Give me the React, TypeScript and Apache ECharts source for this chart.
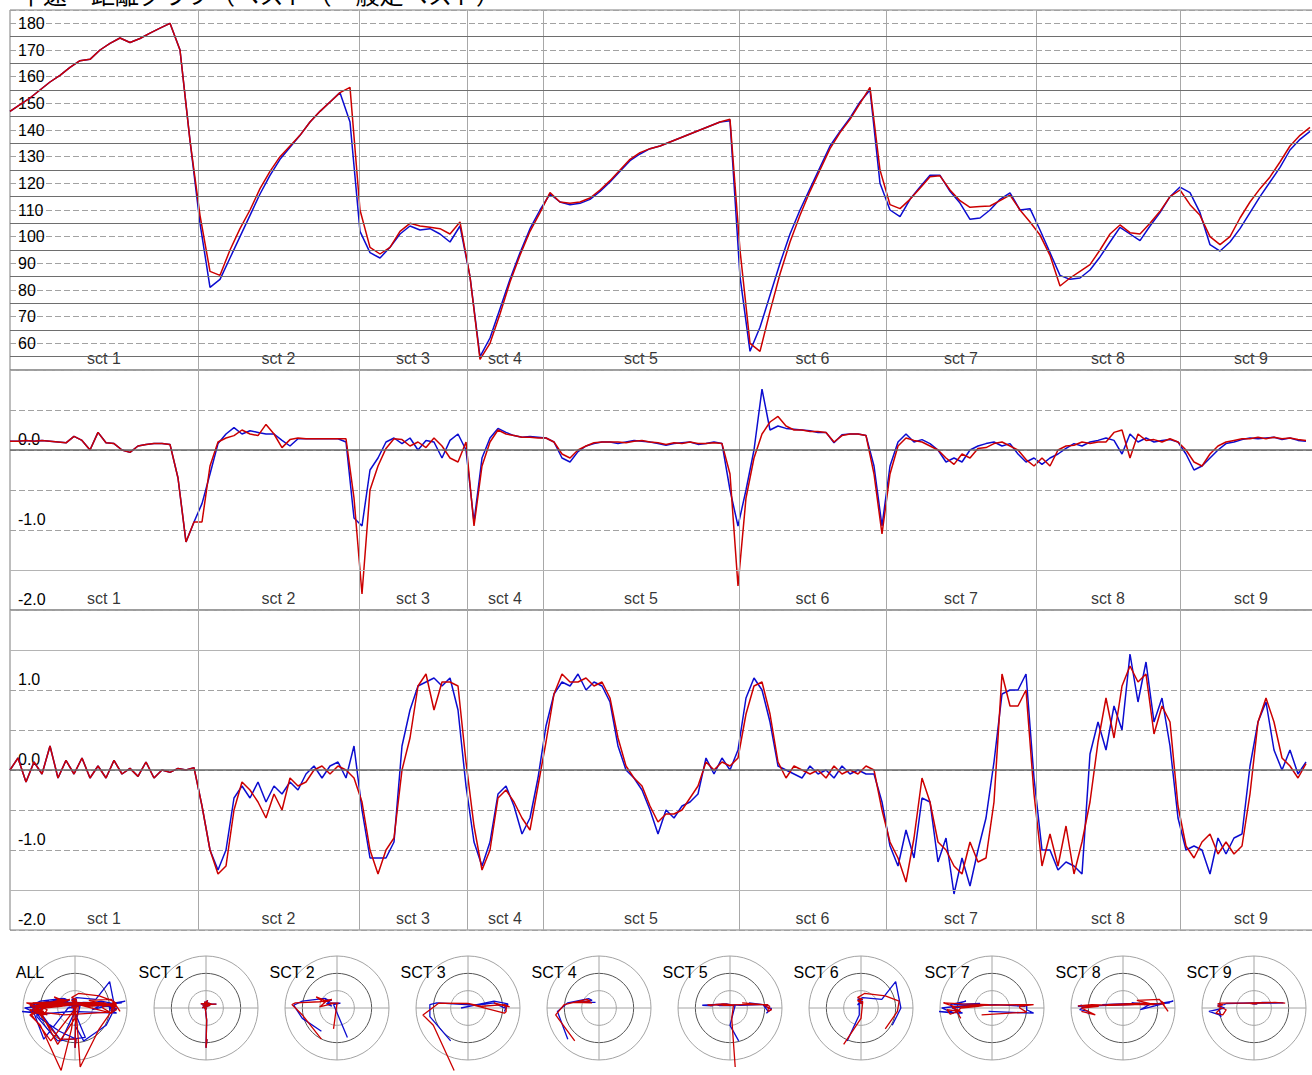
import React, { useEffect, useRef } from 'react';
import * as echarts from 'echarts';

const TITLE = '中速・距離グラフ（ベスト（一般走ベスト）';
const FONT = '"Liberation Sans", Arial, sans-serif';
const BLUE = '#0c0cd0';
const RED = '#cc0000';

const SECTOR_NAMES = ['sct 1', 'sct 2', 'sct 3', 'sct 4', 'sct 5', 'sct 6', 'sct 7', 'sct 8', 'sct 9'];
const POLAR_NAMES = ['ALL', 'SCT 1', 'SCT 2', 'SCT 3', 'SCT 4', 'SCT 5', 'SCT 6', 'SCT 7', 'SCT 8', 'SCT 9'];
const SECTOR_BOUNDS = [0, 188, 349, 457, 533, 729, 876, 1026, 1170, 1312];
const TOTAL_DIST = 1312;

// speed (km/h), sampled every 10 distance units
const SPEED_STEP = 10;
const SPEED_BLUE = [
  147, 149.5, 152, 155, 158, 160.5, 163.5, 166, 166.5, 170,
  172.5, 174.5, 172.8, 174.3, 176.3, 178.2, 180, 170, 136, 105,
  81, 84, 92, 100, 108, 116, 123, 129, 133.5, 138,
  143, 147, 150.5, 154, 143, 102, 94, 92, 96, 101,
  104, 102.5, 103, 101, 98, 104, 85, 55, 62, 73,
  84, 94, 103, 110, 116, 113, 112, 112.5, 114, 117,
  120.5, 124.5, 128.5, 131, 133, 134, 135.5, 137, 138.5, 140,
  141.5, 143, 143.5, 85, 57, 66, 78, 90, 101, 110,
  118, 126, 134, 139.5, 144.5, 150.5, 155, 120, 110, 107.5,
  114, 118.6, 123, 123, 117, 112.6, 106.5, 107, 110, 114,
  116.4, 110, 110.5, 102.5, 94, 85.5, 84, 84.5, 87.5, 92.4,
  98, 103.5, 101, 98.5, 104, 109, 115, 118.6, 116.5, 109,
  97, 94.6, 98, 103, 109, 115, 120.5, 126, 132.5, 136.5, 139.5,
];
const SPEED_RED = [
  147, 149.5, 152, 155, 158, 160.5, 163.5, 166, 166.5, 170,
  172.5, 174.5, 172.8, 174.3, 176.3, 178.2, 180, 170, 136, 108,
  87, 85.5, 95, 103, 110, 118, 124.5, 130, 134, 138,
  143, 147, 150.5, 154, 156, 110, 96, 93.5, 96, 102,
  105, 104, 103.5, 103, 101, 105.5, 85, 54, 60, 71,
  83, 93, 102, 109, 116.5, 113, 112.5, 113, 114.5, 117.5,
  121, 125, 129, 131.5, 133, 134, 135.5, 137, 138.5, 140,
  141.5, 143, 144, 95, 60, 57, 72, 86, 98, 108,
  117, 125, 133, 139, 144, 150, 156, 125, 112, 110.5,
  114, 118.2, 122.5, 122.8, 117.5, 113.5, 111, 111.3, 111.5, 113.5,
  115.6, 110, 105.5, 100.6, 93, 81.5, 84.5, 87, 89.5, 95,
  101, 104.4, 101.5, 101, 105, 109.5, 115, 117.5, 112, 108,
  100, 97, 100, 107, 113, 118, 122.4, 128, 134, 138, 141,
];

// G values, sampled every 8 distance units
const G_STEP = 8;
const LONG_G_BLUE = [
  0.11, 0.11, 0.12, 0.11, 0.12, 0.11, 0.10, 0.09, 0.17, 0.12,
  0.00, 0.22, 0.09, 0.08, 0.00, -0.03, 0.05, 0.07, 0.08, 0.08,
  0.07, -0.35, -1.15, -0.90, -0.67, -0.30, 0.08, 0.20, 0.28, 0.20,
  0.24, 0.22, 0.20, 0.20, 0.12, 0.05, 0.14, 0.14, 0.14, 0.14,
  0.14, 0.14, 0.10, -0.85, -0.95, -0.25, -0.10, 0.10, 0.15, 0.08,
  0.15, 0.00, 0.12, 0.10, -0.10, 0.12, 0.20, 0.00, -0.90, -0.10,
  0.15, 0.27, 0.22, 0.18, 0.16, 0.17, 0.16, 0.15, 0.10, -0.10,
  -0.15, -0.02, 0.05, 0.08, 0.10, 0.10, 0.08, 0.10, 0.12, 0.11,
  0.10, 0.08, 0.06, 0.08, 0.09, 0.10, 0.07, 0.08, 0.10, 0.08,
  -0.50, -0.95, -0.50, 0.00, 0.76, 0.25, 0.30, 0.27, 0.26, 0.25,
  0.24, 0.22, 0.22, 0.09, 0.19, 0.20, 0.20, 0.18, -0.20, -0.95,
  -0.20, 0.10, 0.20, 0.10, 0.13, 0.08, 0.00, -0.15, -0.10, -0.15,
  0.00, 0.05, 0.08, 0.10, 0.05, 0.08, -0.05, -0.15, -0.10, -0.18,
  -0.10, -0.05, 0.02, 0.08, 0.05, 0.10, 0.12, 0.15, 0.12, -0.05,
  0.20, 0.10, 0.15, 0.10, 0.12, 0.13, 0.10, -0.05, -0.25, -0.20,
  -0.10, 0.00, 0.08, 0.10, 0.13, 0.15, 0.14, 0.15, 0.16, 0.13,
  0.15, 0.12, 0.11,
];
const LONG_G_RED = [
  0.11, 0.11, 0.12, 0.11, 0.12, 0.11, 0.10, 0.09, 0.17, 0.12,
  0.00, 0.22, 0.09, 0.08, 0.00, -0.03, 0.05, 0.07, 0.08, 0.08,
  0.07, -0.35, -1.15, -0.90, -0.90, -0.20, 0.10, 0.15, 0.18, 0.25,
  0.20, 0.18, 0.32, 0.20, 0.03, 0.13, 0.15, 0.14, 0.14, 0.14,
  0.14, 0.14, 0.14, -0.60, -1.80, -0.50, -0.20, 0.02, 0.14, 0.13,
  0.05, 0.10, 0.03, 0.15, 0.05, -0.10, -0.15, 0.10, -0.95, -0.20,
  0.10, 0.25, 0.20, 0.18, 0.16, 0.16, 0.15, 0.15, 0.10, -0.05,
  -0.10, 0.00, 0.05, 0.09, 0.10, 0.10, 0.10, 0.09, 0.11, 0.12,
  0.10, 0.09, 0.07, 0.09, 0.08, 0.10, 0.08, 0.08, 0.09, 0.08,
  -0.30, -1.70, -0.60, -0.10, 0.20, 0.35, 0.42, 0.30, 0.25, 0.25,
  0.23, 0.23, 0.22, 0.10, 0.18, 0.20, 0.20, 0.18, -0.30, -1.05,
  -0.30, 0.05, 0.15, 0.12, 0.10, 0.05, 0.00, -0.10, -0.18, -0.05,
  -0.10, 0.02, 0.03, 0.08, 0.10, 0.05, 0.00, -0.12, -0.20, -0.10,
  -0.20, 0.00, 0.05, 0.06, 0.10, 0.08, 0.10, 0.10, 0.22, 0.25,
  -0.10, 0.20, 0.12, 0.13, 0.10, 0.14, 0.10, 0.00, -0.15, -0.20,
  -0.05, 0.05, 0.10, 0.12, 0.14, 0.14, 0.16, 0.14, 0.16, 0.14,
  0.15, 0.13, 0.12,
];
const LAT_G_BLUE = [
  0.00, 0.15, -0.15, 0.10, -0.05, 0.30, -0.10, 0.12, -0.05, 0.15,
  -0.10, 0.05, -0.10, 0.12, -0.05, 0.02, -0.08, 0.10, -0.10, 0.00,
  -0.03, 0.02, 0.00, 0.03, -0.45, -1.00, -1.25, -1.00, -0.35, -0.20,
  -0.35, -0.15, -0.40, -0.20, -0.30, -0.15, -0.25, -0.05, 0.05, -0.10,
  0.05, 0.10, -0.10, 0.30, -0.50, -1.10, -1.10, -1.10, -0.90, 0.30,
  0.75, 1.05, 1.10, 1.15, 1.05, 1.15, 0.75, -0.20, -0.90, -1.20,
  -0.90, -0.30, -0.20, -0.45, -0.80, -0.60, -0.10, 0.55, 0.95, 1.10,
  1.05, 1.20, 1.00, 1.10, 1.05, 0.85, 0.30, 0.00, -0.10, -0.25,
  -0.50, -0.80, -0.50, -0.60, -0.45, -0.40, -0.30, 0.15, -0.05, 0.15,
  0.00, 0.25, 0.90, 1.15, 1.00, 0.60, 0.05, 0.00, -0.05, -0.10,
  0.05, -0.05, 0.00, -0.10, 0.05, -0.05, 0.00, -0.05, -0.05, -0.40,
  -0.95, -1.20, -0.75, -1.10, -0.35, -0.40, -1.15, -0.85, -1.55, -1.10,
  -1.45, -1.00, -0.60, 0.10, 0.95, 1.00, 1.00, 1.20, -0.10, -1.00,
  -1.00, -1.25, -1.15, -1.20, -1.30, 0.20, 0.60, 0.25, 0.80, 0.50,
  1.45, 0.85, 1.35, 0.60, 0.90, 0.30, -0.60, -1.00, -0.95, -1.00,
  -1.30, -0.85, -1.05, -0.85, -0.80, 0.05, 0.60, 0.85, 0.25, 0.00,
  0.25, -0.05, 0.10,
];
const LAT_G_RED = [
  0.00, 0.15, -0.15, 0.10, -0.05, 0.30, -0.10, 0.12, -0.05, 0.15,
  -0.10, 0.05, -0.10, 0.12, -0.05, 0.02, -0.08, 0.10, -0.10, 0.00,
  -0.03, 0.02, 0.00, 0.03, -0.45, -1.00, -1.30, -1.20, -0.50, -0.15,
  -0.25, -0.40, -0.60, -0.30, -0.50, -0.10, -0.20, -0.15, 0.00, 0.05,
  -0.05, 0.05, 0.00, -0.10, -0.40, -1.00, -1.30, -1.00, -0.85, 0.00,
  0.40, 1.05, 1.20, 0.75, 1.10, 1.10, 1.05, 0.10, -0.70, -1.25,
  -1.00, -0.35, -0.25, -0.40, -0.60, -0.75, -0.20, 0.35, 0.95, 1.20,
  1.10, 1.10, 1.15, 1.05, 1.10, 0.90, 0.40, 0.05, -0.10, -0.20,
  -0.45, -0.65, -0.55, -0.55, -0.50, -0.35, -0.20, 0.10, 0.00, 0.10,
  0.05, 0.15, 0.70, 1.05, 1.10, 0.70, 0.10, -0.10, 0.05, 0.00,
  -0.05, 0.00, -0.10, 0.05, -0.05, 0.00, -0.05, 0.05, 0.00, -0.50,
  -0.90, -1.10, -1.40, -0.85, -0.10, -0.40, -0.90, -1.00, -1.20, -1.30,
  -0.90, -1.15, -1.10, -0.40, 1.20, 0.80, 0.80, 1.00, -0.30, -1.20,
  -0.80, -1.20, -0.70, -1.30, -0.90, -0.40, 0.35, 0.90, 0.40, 1.05,
  1.30, 1.10, 1.20, 0.45, 0.80, 0.60, -0.45, -0.95, -1.10, -0.90,
  -0.80, -1.05, -0.90, -1.05, -0.95, -0.30, 0.60, 0.90, 0.60, 0.15,
  0.05, -0.10, 0.08,
];

// grid lines / ticks
const SPEED_SOLID_LINES = [55, 65, 75, 85, 95, 105, 115, 125, 135, 145, 155, 165, 175];
const LONG_LIGHT_LINES = [-1.5];
const LAT_LIGHT_LINES = [1.5, -1.5];
const POLAR_RINGS = [0.5, 1.0, 1.5];

const PANELS = [
  { top: 22, height: 360, min: 50, max: 185, interval: 10, align: 'middle', pad: [4, 0, 0, 0], light: [] as number[], solid: SPEED_SOLID_LINES, zero: false },
  { top: 382, height: 240, min: -2, max: 1, interval: 0.5, align: 'bottom', pad: [0, 0, 3, 0], light: LONG_LIGHT_LINES, solid: [] as number[], zero: true },
  { top: 622, height: 320, min: -2, max: 2, interval: 0.5, align: 'bottom', pad: [0, 0, 3, 0], light: LAT_LIGHT_LINES, solid: [] as number[], zero: true },
];
const POLAR_CX0 = 75;
const POLAR_DX = 131;
const POLAR_CY = 1020;
const POLAR_R = 52;

function series(values: number[], step: number) {
  return values.map((v, i) => [i * step, v]);
}

function polarData(lat: number[], lon: number[], k: number) {
  const out: number[][] = [];
  for (let i = 0; i < lat.length; i++) {
    const d = i * G_STEP;
    if (k < 0 || (d >= SECTOR_BOUNDS[k] && d <= SECTOR_BOUNDS[k + 1])) out.push([lat[i], lon[i]]);
  }
  return out;
}

export default function App() {
  const ref = useRef<HTMLDivElement>(null);
  useEffect(() => {
    const chart = echarts.init(ref.current as HTMLDivElement, null, { renderer: 'svg' });
    const grids: any[] = [];
    const xAxes: any[] = [];
    const yAxes: any[] = [];
    const ser: any[] = [];
    const hidden = { axisLine: { show: false }, axisTick: { show: false }, axisLabel: { show: false }, splitLine: { show: false } };

    const panelData = [
      [SPEED_BLUE, SPEED_RED, SPEED_STEP],
      [LONG_G_BLUE, LONG_G_RED, G_STEP],
      [LAT_G_BLUE, LAT_G_RED, G_STEP],
    ] as any[];

    PANELS.forEach((p, pi) => {
      grids.push({ left: 10, top: p.top, width: TOTAL_DIST, height: p.height, show: true, borderColor: '#7c7c7c', borderWidth: 1, backgroundColor: 'transparent' });
      xAxes.push({ type: 'value', gridIndex: pi, min: 0, max: TOTAL_DIST, ...hidden });
      yAxes.push({
        type: 'value', gridIndex: pi, min: p.min, max: p.max, interval: p.interval,
        axisLine: { show: false }, axisTick: { show: false },
        axisLabel: {
          inside: true, margin: 8, color: '#000', fontSize: 16, fontFamily: FONT,
          verticalAlign: p.align, padding: p.pad, showMinLabel: pi !== 0, showMaxLabel: false,
          formatter: (v: number) => (pi === 0 ? String(v) : Number.isInteger(v) ? v.toFixed(1) : ''),
        },
        splitLine: { show: true, lineStyle: { type: [6, 3], color: '#a2a2a2', width: 1 } },
      });
      const ml: any[] = [];
      SECTOR_BOUNDS.slice(1, -1).forEach((b) => ml.push({ xAxis: b, lineStyle: { color: '#a8a8a8', type: 'solid', width: 1 } }));
      p.solid.forEach((v) => ml.push({ yAxis: v, lineStyle: { color: '#6e6e6e', type: 'solid', width: 1 } }));
      p.light.forEach((v) => ml.push({ yAxis: v, lineStyle: { color: '#b4b4b4', type: 'solid', width: 1 } }));
      if (p.zero) ml.push({ yAxis: 0, lineStyle: { color: '#666', type: 'solid', width: 1.5 } });
      ser.push({
        type: 'scatter', xAxisIndex: pi, yAxisIndex: pi, z: 1, silent: true, clip: false,
        symbolSize: 1, itemStyle: { color: 'rgba(0,0,0,0)' },
        data: SECTOR_NAMES.map((_, k) => [(SECTOR_BOUNDS[k] + SECTOR_BOUNDS[k + 1]) / 2, p.min]),
        label: { show: true, position: 'top', distance: 3, color: '#000', fontSize: 16, fontFamily: FONT, formatter: (q: any) => SECTOR_NAMES[q.dataIndex] },
        markLine: { silent: true, symbol: ['none', 'none'], label: { show: false }, data: ml, animation: false },
      });
      const [blue, red, step] = panelData[pi];
      ser.push({ type: 'line', xAxisIndex: pi, yAxisIndex: pi, z: 3, data: series(blue, step), showSymbol: false, symbol: 'none', lineStyle: { color: BLUE, width: 1.5 }, emphasis: { disabled: true } });
      ser.push({ type: 'line', xAxisIndex: pi, yAxisIndex: pi, z: 4, data: series(red, step), showSymbol: false, symbol: 'none', lineStyle: { color: RED, width: 1.5 }, emphasis: { disabled: true } });
    });

    const graphics: any[] = [
      { type: 'text', x: 19, y: 17, style: { text: TITLE, font: '24px "Noto Sans CJK JP"', fill: '#000', verticalAlign: 'bottom', align: 'left' } },
    ];

    POLAR_NAMES.forEach((name, k) => {
      const gi = 3 + k;
      const cx = POLAR_CX0 + POLAR_DX * k;
      grids.push({ left: cx - POLAR_R, top: POLAR_CY - POLAR_R, width: POLAR_R * 2, height: POLAR_R * 2, show: false });
      xAxes.push({ type: 'value', gridIndex: gi, min: -1.5, max: 1.5, ...hidden });
      yAxes.push({ type: 'value', gridIndex: gi, min: -1.5, max: 1.5, ...hidden });
      ser.push({
        type: 'custom', xAxisIndex: gi, yAxisIndex: gi, z: 1, silent: true, clip: false,
        data: POLAR_RINGS.map((r, j) => [0, 0, r, j]),
        encode: { x: 0, y: 1 },
        renderItem: (_params: any, api: any) => {
          const c = api.coord([0, 0]);
          const r = api.size([api.value(2), 0])[0];
          const j = api.value(3);
          const children: any[] = [
            { type: 'circle', shape: { cx: c[0], cy: c[1], r }, style: { fill: 'none', stroke: j === 1 ? '#555' : '#a4a4a4', lineWidth: 1 } },
          ];
          if (j === POLAR_RINGS.length - 1) {
            children.push({ type: 'line', shape: { x1: c[0] - r, y1: c[1], x2: c[0] + r, y2: c[1] }, style: { stroke: '#a4a4a4', lineWidth: 1 } });
            children.push({ type: 'line', shape: { x1: c[0], y1: c[1] - r, x2: c[0], y2: c[1] + r }, style: { stroke: '#a4a4a4', lineWidth: 1 } });
          }
          return { type: 'group', children };
        },
      });
      const sk = k - 1;
      ser.push({ type: 'line', xAxisIndex: gi, yAxisIndex: gi, z: 3, clip: false, data: polarData(LAT_G_BLUE, LONG_G_BLUE, sk), showSymbol: false, symbol: 'none', lineStyle: { color: BLUE, width: 1.3 }, emphasis: { disabled: true } });
      ser.push({ type: 'line', xAxisIndex: gi, yAxisIndex: gi, z: 4, clip: false, data: polarData(LAT_G_RED, LONG_G_RED, sk), showSymbol: false, symbol: 'none', lineStyle: { color: RED, width: 1.3 }, emphasis: { disabled: true } });
      graphics.push({ type: 'text', x: cx - 45, y: 984, z: 10, style: { text: name, font: '16px "Liberation Sans"', fill: '#000', align: 'center', verticalAlign: 'middle' } });
    });

    chart.setOption({
      animation: false,
      backgroundColor: '#fff',
      grid: grids,
      xAxis: xAxes,
      yAxis: yAxes,
      series: ser,
      graphic: graphics,
    });
    return () => chart.dispose();
  }, []);
  return (
    <div style={{ position: 'absolute', left: 0, top: 0, width: 1312, height: 1075, overflow: 'hidden', background: '#fff' }}>
      <div ref={ref} style={{ position: 'absolute', left: 0, top: -12, width: 1322, height: 1087 }} />
    </div>
  );
}
